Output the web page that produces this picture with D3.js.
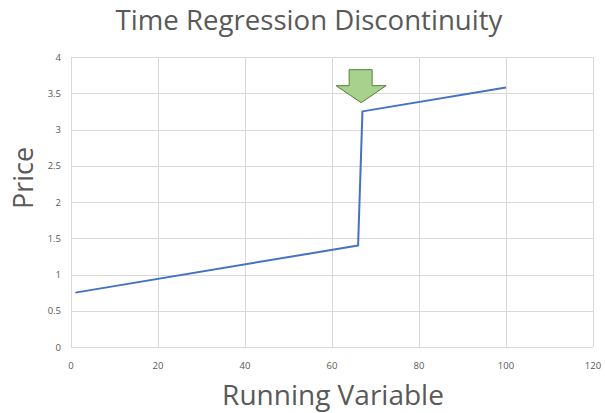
<!DOCTYPE html>
<html>
<head>
<meta charset="utf-8">
<script src="https://cdn.jsdelivr.net/npm/d3@7"></script>
<style>
  body { margin: 0; background: #fff; }
  svg text { font-family: 'Open Sans', sans-serif; fill: #595959; }
</style>
</head>
<body>
<svg id="chart"></svg>
<script>
const width = 605
const height = 413
const margin = { top: 57, right: 12, bottom: 66, left: 71 }

// data
const runningVar = [1, 66, 67, 100]
const price = [0.75, 1.4, 3.25, 3.58]
const xTicks = [0, 20, 40, 60, 80, 100, 120]
const yTicks = [0, 0.5, 1, 1.5, 2, 2.5, 3, 3.5, 4]
const cutoff = { x: 66.7, y: 3.37 } // where the arrow points

const svg = d3.select('#chart')
    .attr('width', width)
    .attr('height', height)

const x = d3.scaleLinear()
    .domain([0, 120])
    .range([margin.left, width - margin.right])

const y = d3.scaleLinear()
    .domain([0, 4])
    .range([height - margin.bottom, margin.top])

// gridlines
svg.append('g')
    .selectAll('line.hgrid')
    .data(yTicks)
    .join('line')
    .attr('x1', x(0))
    .attr('x2', x(120))
    .attr('y1', d => Math.round(y(d)) + 0.5)
    .attr('y2', d => Math.round(y(d)) + 0.5)
    .attr('stroke', '#d9d9d9')
    .attr('stroke-width', 1)

svg.append('g')
    .selectAll('line.vgrid')
    .data(xTicks)
    .join('line')
    .attr('y1', y(0))
    .attr('y2', y(4))
    .attr('x1', d => Math.round(x(d)) + 0.5)
    .attr('x2', d => Math.round(x(d)) + 0.5)
    .attr('stroke', '#d9d9d9')
    .attr('stroke-width', 1)

// tick labels
svg.append('g')
    .selectAll('text')
    .data(xTicks)
    .join('text')
    .attr('x', d => x(d))
    .attr('y', y(0) + 22)
    .attr('text-anchor', 'middle')
    .style('font-size', '9.5px')
    .text(d => d)

svg.append('g')
    .selectAll('text')
    .data(yTicks)
    .join('text')
    .attr('x', x(0) - 10)
    .attr('y', d => y(d) + 3.5)
    .attr('text-anchor', 'end')
    .style('font-size', '9.5px')
    .text(d => d)

// the line
const line = d3.line()
    .x((d, i) => x(runningVar[i]))
    .y(d => y(d))

svg.append('path')
    .datum(price)
    .attr('d', line)
    .attr('fill', 'none')
    .attr('stroke', '#4472c4')
    .attr('stroke-width', 2)
    .attr('stroke-linejoin', 'round')

// arrow pointing at the jump
const ax = x(cutoff.x)
const ay = y(cutoff.y)
const arrow = [
    [ax - 12, ay - 33], [ax + 11, ay - 33], [ax + 11, ay - 17],
    [ax + 25, ay - 17], [ax, ay], [ax - 25, ay - 17], [ax - 12, ay - 17]
]
svg.append('path')
    .attr('d', d3.line()(arrow) + 'Z')
    .attr('fill', '#a9d18e')
    .attr('stroke', '#548235')
    .attr('stroke-width', 1)

// titles
svg.append('text')
    .attr('x', 309)
    .attr('y', 30)
    .attr('text-anchor', 'middle')
    .style('font-size', '27.6px')
    .text('Time Regression Discontinuity')

svg.append('text')
    .attr('x', 333)
    .attr('y', 405)
    .attr('text-anchor', 'middle')
    .style('font-size', '28px')
    .text('Running Variable')

svg.append('text')
    .attr('transform', 'translate(33, 178) rotate(-90)')
    .attr('text-anchor', 'middle')
    .style('font-size', '27px')
    .text('Price')
</script>
</body>
</html>
